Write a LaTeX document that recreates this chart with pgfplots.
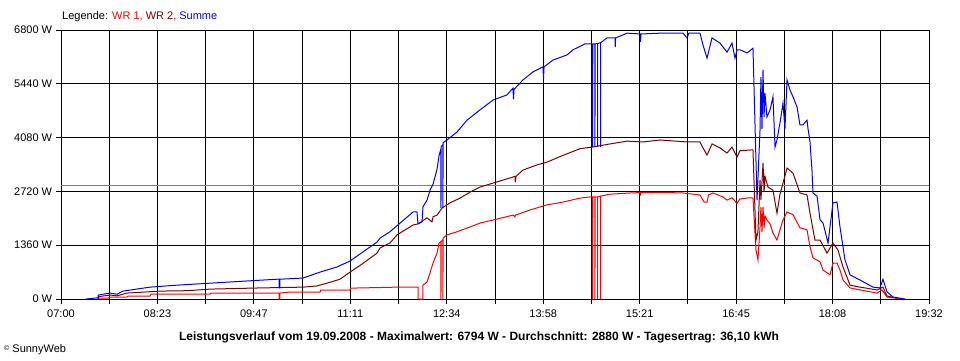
\documentclass[border=0pt]{standalone}
\usepackage{fontspec}
\setmainfont{Liberation Sans}
\usepackage{pgfplots}
\usepackage{pgfplotstable}
\pgfplotsset{compat=1.18}
\definecolor{wrone}{RGB}{255,0,0}
\definecolor{wrtwo}{RGB}{128,0,0}
\definecolor{summe}{RGB}{0,0,255}
\definecolor{avg}{RGB}{128,128,128}

% time in minutes since midnight, power in W
\pgfplotstableread{
t P
452.1 0
452.5 25
461 25
462.5 50
477.2 50
478 75
497.1 75
498 125
549.1 125
550 150
608.9 150
608.9 0
609.7 0
609.7 150
618.4 175
644.4 175
645 225
670.4 225
671 275
696.4 290
711.1 300
729.3 300
729.3 0
733.6 0
733.6 350
737.1 430
739.7 660
742.3 910
745.8 1160
747.5 1415
749.2 1450
749.2 0
749.3 1450
750.9 1500
750.9 0
751.0 1540
754.4 1620
763.1 1700
774.3 1820
783.0 1920
797.7 2020
811.6 2120
813.3 2080
813.8 2120
826.3 2250
841.1 2380
854.9 2450
869.6 2550
878.3 2580
880.6 2580
880.6 0
880.7 2580
882.6 2580
882.6 0
882.7 2580
884.9 2580
884.9 0
885.0 2580
887.5 2600
887.5 0
887.6 2600
895.6 2650
913.0 2680
921.6 2690
921.7 2600
922.2 2690
930.3 2690
947.6 2690
958.9 2680
973.6 2630
977.1 2450
979.7 2450
981 2630
984.9 2680
993.5 2580
997.0 2500
1001.3 2560
1005.7 2420
1008.3 2530
1016.9 2560
1019.5 2550
1022.1 1240
1023.8 990
1025.6 1820
1026.4 2330
1027.3 1700
1028.2 2330
1029.1 1800
1029.9 2100
1031.6 2000
1034.3 1900
1036.8 1670
1040.3 1490
1042.9 1750
1045.5 2000
1049.0 2200
1054.2 2130
1060.2 1800
1066.3 1750
1068.9 1320
1071.5 1040
1077.6 940
1080.2 730
1086.2 610
1088.8 910
1092.3 910
1094.9 730
1097.5 480
1103.6 280
1112.2 230
1127.0 150
1131.3 230
1135.6 50
1146.9 10
}\wrA

\pgfplotstableread{
t P
452.1 0
452.5 60
462.5 100
468.5 80
477.2 150
492 175
505.8 200
529.2 210
549.1 250
592.4 280
629.7 300
641.8 330
650.5 400
661.7 500
670.4 680
681.6 900
693.8 1160
696.4 1290
705.0 1415
711.1 1620
725.0 1870
729.3 1900
737.1 2050
741.4 1950
742.3 2080
745.8 2120
750.1 2300
757.0 2430
765.7 2550
774.3 2700
783.0 2830
797.7 2960
809.0 3060
813.3 3100
813.6 2950
814.2 3100
820.3 3260
832.4 3390
841.1 3460
852.3 3600
869.6 3800
880.0 3840
895.6 3920
910.4 3990
924.2 3970
938.9 4020
962.3 3970
973.6 3970
976.2 3820
979.7 3640
984.0 3920
990.9 3820
997.0 3690
1001.3 3840
1005.7 3590
1008.3 3750
1019.5 3770
1022.1 1490
1023.8 1700
1025.6 3010
1026.4 2500
1028.2 3440
1029.1 2700
1029.9 3100
1032.5 2830
1036.8 2750
1040.3 2170
1042.9 2650
1045.5 2930
1049.0 3310
1054.2 3180
1060.2 2680
1066.3 2630
1068.9 2170
1073.2 1490
1077.6 1490
1083.6 1160
1088.8 1415
1093.1 1240
1097.5 810
1103.6 350
1112.2 300
1127.0 230
1132.1 300
1135.6 75
1144.3 20
}\wrB

\pgfplotstableread{
t P
441.7 0
452.1 30
452.1 100
462.5 150
468.5 120
473.7 200
497.1 300
520.5 350
549.1 400
577.7 450
607.1 500
608.9 500
608.9 280
609.7 280
609.7 500
629.7 530
644.4 680
659.1 810
670.4 960
681.6 1190
693.8 1440
696.4 1540
705.0 1700
725.0 2200
728.4 2200
729.3 1900
732.8 1950
733.6 2330
737.1 2500
739.7 2750
742.3 2900
745.8 3280
747.5 3620
748.4 3720
749.2 3800
749.2 2300
749.3 3850
750.9 3900
750.9 2300
751.0 3950
754.4 4020
763.1 4220
771.7 4520
783.0 4780
794.3 5030
806.4 5160
811.6 5330
812.0 5050
812.5 5300
820.3 5540
828.9 5740
837.6 5870
838.0 5550
838.5 5870
846.2 6040
858.4 6170
863.6 6300
874.0 6450
880.6 6450
880.6 3840
880.7 6450
882.6 6450
882.6 3840
882.7 6450
884.9 6460
884.9 3840
885.0 6460
887.5 6480
887.5 3840
887.6 6480
893.0 6600
900.0 6600
900.2 6370
900.5 6600
910.4 6720
921.6 6700
922.0 6500
922.5 6700
938.9 6720
958.9 6720
962.3 6600
964.0 6720
973.6 6720
976.2 6420
979.7 6090
984.0 6600
990.9 6470
997.0 6240
1001.3 6470
1003.9 6090
1005.7 6300
1008.3 6300
1014.3 6220
1019.5 6340
1023.0 2500
1025.6 4270
1026.4 5610
1027.3 4300
1028.2 5790
1029.1 4600
1029.9 5200
1031.6 4600
1034.3 4780
1036.8 5110
1038.6 3840
1040.3 4020
1042.9 4450
1045.5 4950
1047.2 4300
1049.0 5540
1051.6 5280
1054.2 5110
1057.7 4850
1060.2 4400
1062.8 4400
1066.3 4520
1067.2 4300
1068.9 3970
1070.6 3260
1071.5 2680
1075.0 2600
1077.6 2000
1080.2 1920
1084.5 1415
1088.8 2430
1092.3 2450
1094.9 1820
1099.2 990
1103.6 610
1112.2 480
1123.5 300
1129.5 280
1132.1 500
1135.6 180
1140.8 50
1151.2 0
}\summe

\begin{document}
\fontsize{11}{13}\selectfont
\begin{tikzpicture}[x=1pt,y=1pt]
\useasboundingbox (0,0) rectangle (960,360);
\begin{axis}[
  at={(61pt,61pt)}, anchor=south west,
  scale only axis, width=868pt, height=269pt,
  xmin=420, xmax=1172, ymin=0, ymax=6800,
  axis lines=box, axis line style={black, line width=1pt},
  xtick={420,461.78,503.56,545.33,587.11,628.89,670.67,712.44,754.22,796.00,837.78,879.56,921.33,963.11,1004.89,1046.67,1088.44,1130.22,1172},
  xticklabels={07:00,,08:23,,09:47,,11:11,,12:34,,13:58,,15:21,,16:45,,18:08,,19:32},
  ytick={0,1360,2720,4080,5440,6800},
  yticklabels={0 W,1360 W,2720 W,4080 W,5440 W,6800 W},
  xtick pos=bottom, ytick pos=left,
  tick align=outside, major tick length=5pt,
  every tick/.style={black, line width=1pt},
  grid=major, major grid style={black, line width=1pt},
  ticklabel style={font=\fontsize{11}{13}\selectfont},
  /pgf/number format/assume math mode=true,
  xticklabel style={yshift=-2pt},
  clip=true,
]
\addplot[avg, line width=1pt, forget plot] coordinates {(420,2880) (1172,2880)};
\addplot[wrone, line width=1pt] table[x=t,y=P] {\wrA};
\addplot[wrtwo, line width=1pt] table[x=t,y=P] {\wrB};
\addplot[summe, line width=1pt] table[x=t,y=P] {\summe};
\end{axis}
\node[anchor=west, inner sep=0pt] at (62,343) {Legende: \textcolor{wrone}{WR 1,} \textcolor{wrtwo}{WR 2,} \textcolor{summe}{Summe}};
\node[inner sep=0pt] at (479,23) {\fontsize{12}{14}\selectfont\bfseries Leistungsverlauf vom 19.09.2008 - Maximalwert: 6794 W - Durchschnitt: 2880 W - Tagesertrag: 36,10 kWh};
\node[anchor=west, inner sep=0pt] at (4,10) {{\fontsize{7}{8}\selectfont\raisebox{2pt}{©}} SunnyWeb};
\end{tikzpicture}
\end{document}
